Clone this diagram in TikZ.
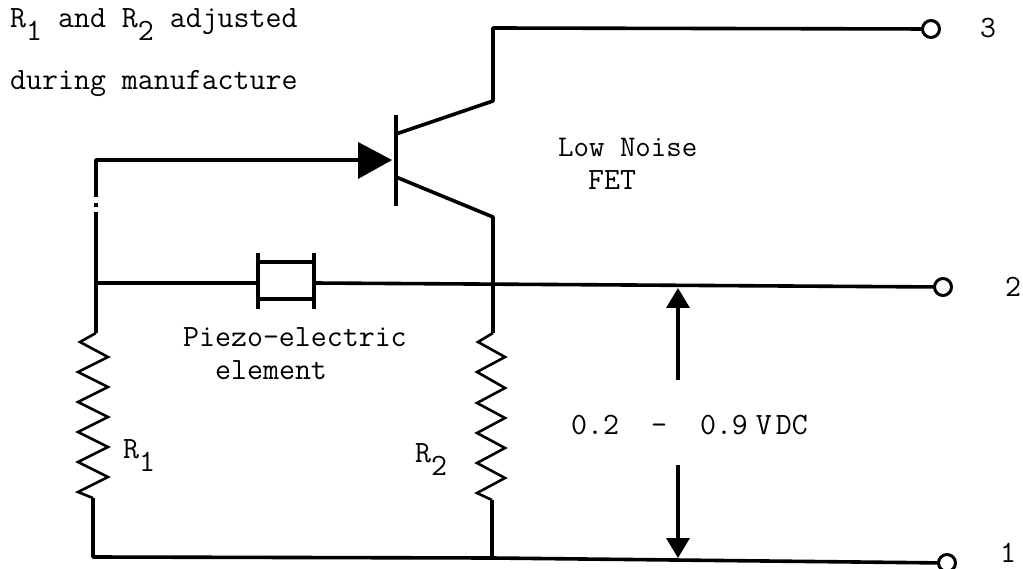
\documentclass[tikz,border=0pt]{standalone}
\usetikzlibrary{arrows.meta}
\tikzset{wire/.style={line width=3.6pt,line join=round},zig/.style={line width=2.6pt,line join=miter},term/.style={circle,draw,line width=3pt,minimum size=17pt,inner sep=0pt,fill=white},
lbl/.style={inner sep=0pt,font=\fontsize{31}{31}\selectfont\ttfamily,anchor=base west},
arr/.style={line width=3.6pt,-{Triangle[length=20pt,width=23pt]}}}
\newcommand{\sbs}[1]{\raisebox{-13pt}{#1}}
\begin{document}
\begin{tikzpicture}[x=1pt,y=-1pt]
\useasboundingbox (0,0) rectangle (1023,569);
\coordinate (c3) at (493,28);\coordinate (c3b) at (493,101);
\coordinate (tc) at (396,134);
\coordinate (te) at (396,177);\coordinate (e2) at (493,217);
\coordinate (j2) at (493,283);\coordinate (b2) at (492,558);
\coordinate (tl) at (96,283);\coordinate (bl) at (93,557);\coordinate (gl) at (96,160);
\coordinate (pl) at (258,283);\coordinate (pr) at (314,283);
\node[term] (t3) at (931,29) {};
\node[term] (t2) at (943,287) {};
\node[term] (t1) at (947,563) {};
\draw[wire] (t3) -- (c3) -- (c3b) -- (tc);
\draw[wire] (te) -- (e2) -- (j2);
\draw[line width=4.4pt] (396,115) -- (396,206);
\draw[wire] (96,197) -- (gl) -- (360,160);
\fill (358,142) -- (392,160) -- (358,179) -- cycle;
\draw[wire] (96,203) -- (96,207);
\draw[wire] (96,212) -- (tl);
\draw[wire] (tl) -- (pl);
\draw[wire] (pr) -- (t2);
\draw[line width=4.4pt] (258,253) -- (258,309) (314,253) -- (314,309);
\draw[wire] (258,262) -- (314,262) (258,299) -- (314,299);
\draw[wire] (tl) -- (96,333);
\draw[zig] (96,333) -- (80,342) -- (108,357) -- (78,372) -- (108,387) -- (78,402) -- (108,417) -- (78,432) -- (108,447) -- (78,462) -- (108,477) -- (78,492) -- (93,498);
\draw[wire] (93,498) -- (bl) -- (b2) -- (t1);
\draw[wire] (j2) -- (493,333);
\draw[zig] (493,333) -- (478,342) -- (505,357) -- (477,372) -- (505,388) -- (477,403) -- (505,418) -- (477,433) -- (505,448) -- (477,463) -- (505,478) -- (477,493) -- (492,500);
\draw[wire] (492,500) -- (b2);
\coordinate (a1s) at (678,380);\coordinate (a1e) at (678,288);
\coordinate (a2s) at (678,465);\coordinate (a2e) at (678,558);
\draw[arr] (a1s) -- (a1e);
\draw[arr] (a2s) -- (a2e);
\node[lbl] (n1) at (10,28) {R\sbs{1} and R\sbs{2} adjusted};
\node[lbl] (n2) at (10,90) {during manufacture};
\node[lbl,font=\fontsize{30}{30}\selectfont\ttfamily] (n3) at (558,157) {Low Noise};
\node[lbl] (n4) at (588,190) {FET};
\node[lbl] (n5) at (183,347) {Piezo-electric};
\node[lbl] (n6) at (215,379) {element};
\node[lbl] (n7) at (123,458) {R\sbs{1}};
\node[lbl] (n8) at (415,462) {R\sbs{2}};
\node[lbl] (n9) at (571,434) {0.2\hspace{32pt}-\hspace{33pt}0.9\hspace{8pt}V\hspace{4pt}DC};
\node[lbl] (n10) at (980,38) {3};
\node[lbl] (n11) at (1005,297) {2};
\node[lbl] (n12) at (1000,562) {1};
\end{tikzpicture}
\end{document}
